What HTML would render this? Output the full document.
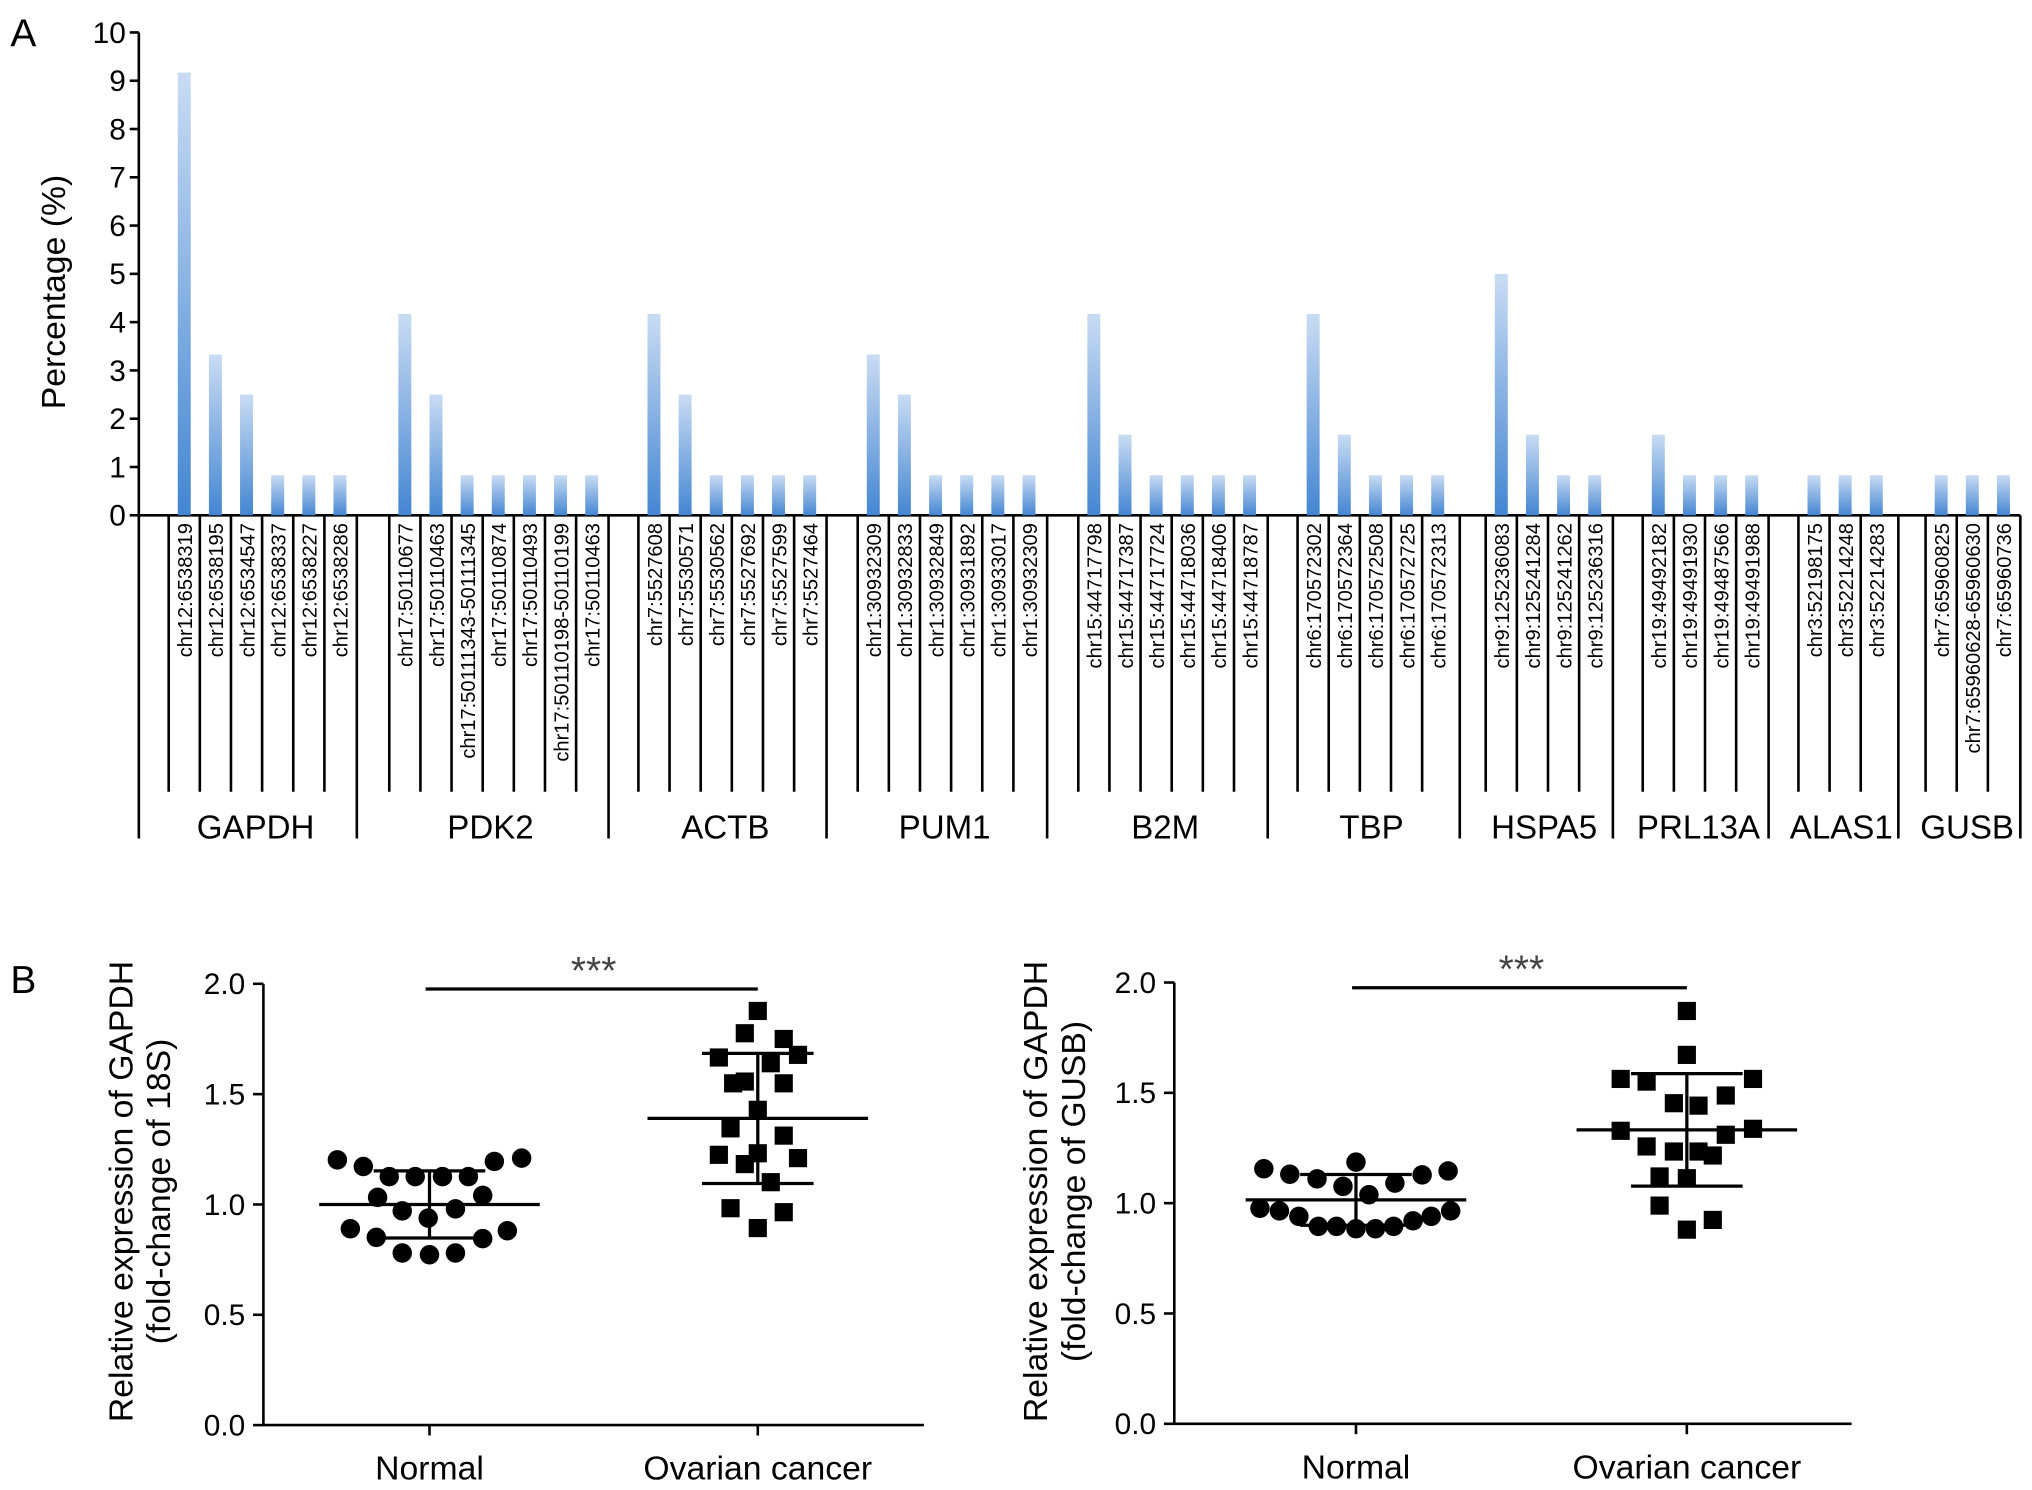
<!DOCTYPE html>
<html><head><meta charset="utf-8"><style>
html,body{margin:0;padding:0;background:#fff}
svg{display:block;font-family:"Liberation Sans",Arial,sans-serif}
</style></head><body>
<svg id="fig" width="2032" height="1490" viewBox="0 0 1566 1148" preserveAspectRatio="none" xmlns="http://www.w3.org/2000/svg">
<defs><linearGradient id="bg" x1="0" y1="0" x2="0" y2="1"><stop offset="0" stop-color="#c9dcf3"/><stop offset="1" stop-color="#4486d2"/></linearGradient></defs>
<text x="8" y="36" font-size="30">A</text>
<text x="8" y="765" font-size="30">B</text>
<g id="pa"></g>
<g id="pb1"></g>
<g id="pb2"></g>
</svg>
<script>
const NS="http://www.w3.org/2000/svg";
// Panel A data
const groups=["GAPDH","PDK2","ACTB","PUM1","B2M","TBP","HSPA5","PRL13A","ALAS1","GUSB"];
const siteLabels=[
["chr12:6538319","chr12:6538195","chr12:6534547","chr12:6538337","chr12:6538227","chr12:6538286"],
["chr17:50110677","chr17:50110463","chr17:50111343-50111345","chr17:50110874","chr17:50110493","chr17:50110198-50110199","chr17:50110463"],
["chr7:5527608","chr7:5530571","chr7:5530562","chr7:5527692","chr7:5527599","chr7:5527464"],
["chr1:30932309","chr1:30932833","chr1:30932849","chr1:30931892","chr1:30933017","chr1:30932309"],
["chr15:44717798","chr15:44717387","chr15:44717724","chr15:44718036","chr15:44718406","chr15:44718787"],
["chr6:170572302","chr6:170572364","chr6:170572508","chr6:170572725","chr6:170572313"],
["chr9:125236083","chr9:125241284","chr9:125241262","chr9:125236316"],
["chr19:49492182","chr19:49491930","chr19:49487566","chr19:49491988"],
["chr3:52198175","chr3:52214248","chr3:52214283"],
["chr7:65960825","chr7:65960628-65960630","chr7:65960736"]];
const percentValues=[
[9.17,3.33,2.5,0.83,0.83,0.83],
[4.17,2.5,0.83,0.83,0.83,0.83,0.83],
[4.17,2.5,0.83,0.83,0.83,0.83],
[3.33,2.5,0.83,0.83,0.83,0.83],
[4.17,1.67,0.83,0.83,0.83,0.83],
[4.17,1.67,0.83,0.83,0.83],
[5.0,1.67,0.83,0.83],
[1.67,0.83,0.83,0.83],
[0.83,0.83,0.83],
[0.83,0.83,0.83]];
const yTicksA=[0,1,2,3,4,5,6,7,8,9,10];
const groupFirstBarX=[142,312,504,673,843,1012,1157,1278,1398,1496];
const groupEdges=[107,275,469,637,807,977,1125,1243,1363,1463,1557];

// Panel B data
const catsB=["Normal","Ovarian cancer"];
const leftNormal=[1.202,1.172,1.126,1.126,1.126,1.126,1.195,1.210,1.032,1.041,0.971,0.980,0.938,0.890,0.851,0.845,0.881,0.780,0.772,0.780];
const leftNormalJit=[-71,-51,-31,-11,10,30,50,71,-40,41,-21,20,-1,-61,-41,41,60,-21,0,20];
const leftCancer=[1.877,1.776,1.750,1.666,1.678,1.640,1.549,1.557,1.549,1.429,1.345,1.312,1.225,1.232,1.210,1.183,1.101,0.983,0.965,0.893];
const leftCancerJit=[0,-10,20,-30,31,10,-19,-10,20,0,-21,20,-30,0,31,-10,10,-21,20,0];
const leftStats=[[1.0,0.152],[1.39,0.295]];
const rightNormal=[1.156,1.131,1.110,1.076,1.186,1.038,1.091,1.128,1.146,0.977,0.965,0.940,0.895,0.895,0.884,0.884,0.895,0.920,0.940,0.965];
const rightNormalJit=[-71,-51,-30,-10,0,10,30,51,71,-74,-59,-44,-29,-15,0,15,29,44,58,73];
const rightCancer=[1.871,1.672,1.563,1.551,1.563,1.488,1.453,1.442,1.328,1.310,1.337,1.257,1.234,1.234,1.216,1.121,1.113,0.989,0.924,0.880];
const rightCancerJit=[0,0,-51,-31,51,30,-10,9,-51,30,51,-31,-10,9,20,-21,0,-21,20,0];
const rightStats=[[1.015,0.115],[1.332,0.255]];
const yTicksB=[0,0.5,1.0,1.5,2.0];

function mk(p,tag,a,txt){const e=document.createElementNS(NS,tag);for(const k in a)e.setAttribute(k,a[k]);if(txt!==undefined)e.textContent=txt;p.appendChild(e);return e;}

// Panel A
(function(){
const g=document.getElementById('pa');
const y0=397,y1=25,axX=107;
const ya=v=>y0-(v/10)*(y0-y1);
mk(g,'line',{x1:axX,y1:y1,x2:axX,y2:y0,stroke:'#000','stroke-width':2});
mk(g,'line',{x1:axX,y1:y0,x2:1557,y2:y0,stroke:'#000','stroke-width':2});
yTicksA.forEach(t=>{
 const l=mk(g,'line',{x1:axX-7,y1:ya(t),x2:axX,y2:ya(t),stroke:'#000','stroke-width':2});
 
 
 const tx=mk(g,'text',{x:axX-10,y:ya(t)+8,'font-size':23,'text-anchor':'end'},String(t));
 
 
});
const yt=mk(g,'text',{x:0,y:0,'font-size':26,'text-anchor':'middle',transform:'translate(50,225) rotate(-90)'},'Percentage (%)');


groupEdges.forEach(x=>{
 const l=mk(g,'line',{x1:x,y1:y0,x2:x,y2:646,stroke:'#000','stroke-width':2});
 
 
});
groups.forEach((gn,gi)=>{
 const cx=(groupEdges[gi]+groupEdges[gi+1])/2+6;
 const gt=mk(g,'text',{x:cx,y:646,'font-size':25.5,'text-anchor':'middle'},gn);
 
 
 percentValues[gi].forEach((v,bi)=>{
  const bx=groupFirstBarX[gi]+bi*24;
  const r=mk(g,'rect',{x:bx-5,y:ya(v),width:10,height:y0-ya(v),fill:'url(#bg)'});
  
  
  const l=mk(g,'line',{x1:bx-12,y1:y0,x2:bx-12,y2:610,stroke:'#000','stroke-width':2});
  
  
  const t=mk(g,'text',{x:0,y:0,'font-size':15.5,'text-anchor':'end',transform:`translate(${bx+6},403) rotate(-90)`},siteLabels[gi][bi]);
  
  
 });
});
})();

function scatter(id,axX,axR,yBot,yTop,cx,ctrlLabel,normVals,normJit,canVals,canJit,stats,t1,t2,t1x,t2x){
 const g=document.getElementById(id);
 const ys=v=>yBot-(v/2)*(yBot-yTop);
 mk(g,'line',{x1:axX,y1:yTop,x2:axX,y2:yBot,stroke:'#000','stroke-width':2});
 mk(g,'line',{x1:axX,y1:yBot,x2:axR,y2:yBot,stroke:'#000','stroke-width':2});
 yTicksB.forEach(t=>{
  const l=mk(g,'line',{x1:axX-8,y1:ys(t),x2:axX,y2:ys(t),stroke:'#000','stroke-width':2});
  
  
  const tx=mk(g,'text',{x:axX-14,y:ys(t)+8,'font-size':23,'text-anchor':'end'},t.toFixed(1));
  
  
 });
 catsB.forEach((c,i)=>{
  const l=mk(g,'line',{x1:cx[i],y1:yBot,x2:cx[i],y2:yBot+8,stroke:'#000','stroke-width':2});
  
  
  const t=mk(g,'text',{x:cx[i],y:yBot+42,'font-size':26,'text-anchor':'middle'},c);
  
  
 });
 const a=mk(g,'text',{x:0,y:0,'font-size':26,'text-anchor':'middle',transform:`translate(${t1x},918) rotate(-90)`},t1);
 
 
 const b=mk(g,'text',{x:0,y:0,'font-size':26,'text-anchor':'middle',transform:`translate(${t2x},918) rotate(-90)`},t2);
 
 
 const sy=ys(2.0)+4;
 const sl=mk(g,'line',{x1:cx[0]-3,y1:sy,x2:cx[1],y2:sy,stroke:'#000','stroke-width':2.5});
 
 
 const st=mk(g,'text',{x:(cx[0]+cx[1])/2,y:sy-4,'font-size':30,'text-anchor':'middle',fill:'#444'},'***');
 
 
 normVals.forEach((v,i)=>{
  const c=mk(g,'circle',{cx:cx[0]+normJit[i],cy:ys(v),r:7.5,fill:'#000'});
  
  
 });
 canVals.forEach((v,i)=>{
  const c=mk(g,'rect',{x:cx[1]+canJit[i]-7,y:ys(v)-7,width:14,height:14,fill:'#000'});
  
  
 });
 stats.forEach((s,i)=>{
  const m=s[0],sd=s[1],x=cx[i];
  const ml=mk(g,'line',{x1:x-85,y1:ys(m),x2:x+85,y2:ys(m),stroke:'#000','stroke-width':2.5});
  
  
  const vl=mk(g,'line',{x1:x,y1:ys(m+sd),x2:x,y2:ys(m-sd),stroke:'#000','stroke-width':2.5});
  
  
  [m+sd,m-sd].forEach(v=>{
   const cp=mk(g,'line',{x1:x-43,y1:ys(v),x2:x+43,y2:ys(v),stroke:'#000','stroke-width':2.5});
   
   
  });
 });
}
scatter('pb1',203,712,1098,758,[331,584],'',leftNormal,leftNormalJit,leftCancer,leftCancerJit,leftStats,'Relative expression of GAPDH','(fold-change of 18S)',102,131);
scatter('pb2',905,1427,1097,757,[1045,1300],'',rightNormal,rightNormalJit,rightCancer,rightCancerJit,rightStats,'Relative expression of GAPDH','(fold-change of GUSB)',807,836);
</script>
</body></html>
